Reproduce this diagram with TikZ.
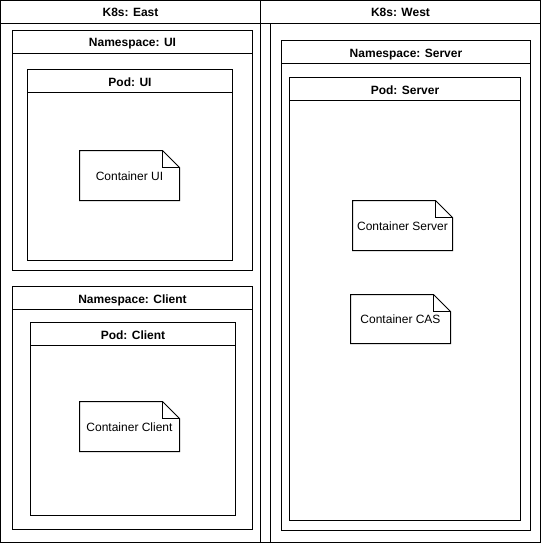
\documentclass[tikz,border=0pt]{standalone}
\usepackage{fontspec}
\setmainfont{Liberation Sans}
% swimlane: name, x1, y1, x2, y2, header bottom, title
\newcommand\swimlane[7]{%
  \coordinate (#1-nw) at (#2,#3);
  \coordinate (#1-se) at (#4,#5);
  \draw[lanebox] (#1-nw) rectangle (#1-se);
  \draw[lanebox] (#2,#6) -- (#4,#6);
  \node[hdr] (#1) at ({(#2+#4)/2},{(#3+#6)/2+5}) {#7};}
% note: name, x1, y1, x2, y2, text
\newcommand\notebox[6]{%
  \draw[lanebox] (#2,#3) -- ({#4-17},#3) -- (#4,{#3+17}) -- (#4,#5) -- (#2,#5) -- cycle;
  \draw[lanebox] ({#4-17},#3) -- ({#4-17},{#3+17}) -- (#4,{#3+17});
  \node[lbl] (#1) at ({(#2+#4)/2},{(#3+#5)/2+4.5}) {#6};}
\begin{document}
\begin{tikzpicture}[x=1pt,y=-1pt,
  lanebox/.style={draw=black, line width=1pt, line join=miter},
  hdr/.style={font=\bfseries\fontsize{12}{14}\selectfont, inner sep=0pt, anchor=base},
  lbl/.style={font=\fontsize{12}{14}\selectfont, inner sep=0pt, anchor=base}]
\useasboundingbox (0,0) rectangle (541,543);
\fill[white] (0,0) rectangle (541,543);
\swimlane{east}{0.5}{0.5}{260.5}{542.5}{23.5}{K8s: East}
\swimlane{west}{260.5}{0.5}{540.5}{542.5}{23.5}{K8s: West}
\coordinate (wl-top) at (270.5,23.5);
\coordinate (wl-bot) at (270.5,542.5);
\draw[lanebox] (wl-top) -- (wl-bot);
\swimlane{nsui}{12.5}{30.5}{252.5}{270.5}{53.5}{Namespace: UI}
\swimlane{podui}{27.5}{69.5}{232.5}{260.5}{92.5}{Pod: UI}
\notebox{cui}{79.5}{150.5}{179.5}{200.5}{Container UI}
\swimlane{nsclient}{12.5}{286.5}{252.5}{529.5}{309.5}{Namespace: Client}
\swimlane{podclient}{30.5}{322.5}{235.5}{515.5}{345.5}{Pod: Client}
\notebox{cclient}{79.5}{401.5}{179.5}{451.5}{Container Client}
\swimlane{nsserver}{281.5}{40.5}{530.5}{530.5}{63.5}{Namespace: Server}
\swimlane{podserver}{289.5}{77.5}{520.5}{520.5}{100.5}{Pod: Server}
\notebox{cserver}{352.5}{200.5}{452.5}{250.5}{Container Server}
\notebox{ccas}{350.5}{294.5}{450.5}{343.5}{Container CAS}
\end{tikzpicture}
\end{document}
